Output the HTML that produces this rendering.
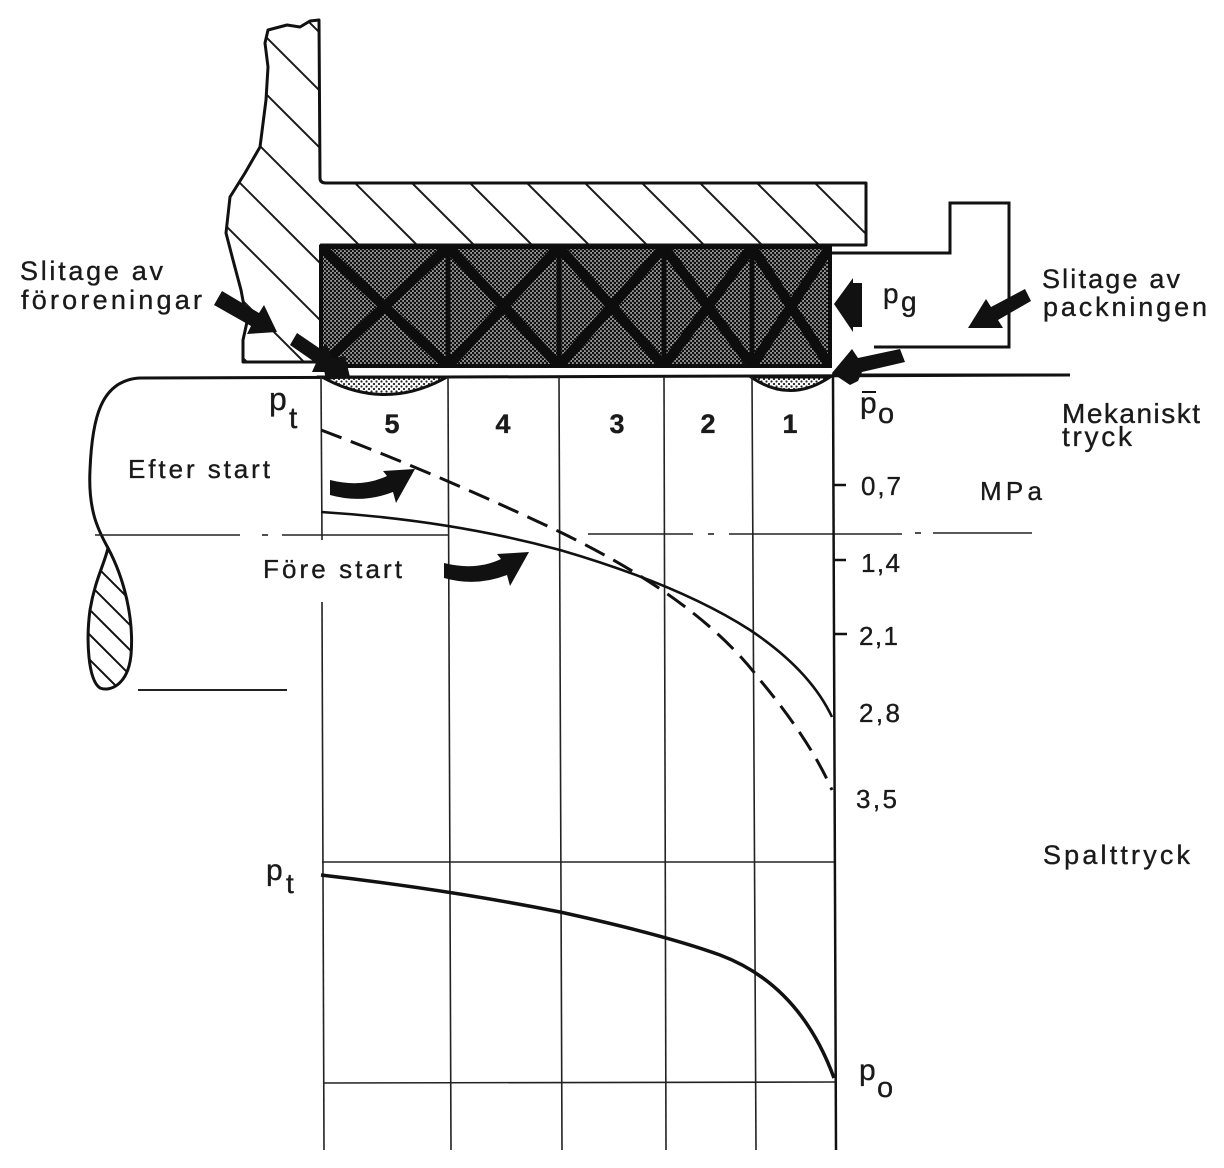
<!DOCTYPE html>
<html><head><meta charset="utf-8"><style>
html,body{margin:0;padding:0;background:#fff;}
svg{display:block;}
text{font-family:"Liberation Sans",Arial,sans-serif;fill:#1a1a1a;stroke:#1a1a1a;stroke-width:0.35;}
</style></head><body>
<svg width="1224" height="1168" viewBox="0 0 1224 1168" xmlns="http://www.w3.org/2000/svg">
<defs>
<pattern id="stip" width="4" height="4" patternUnits="userSpaceOnUse">
<rect width="4" height="4" fill="#9a9a9a"/><circle cx="1" cy="1" r="1.3" fill="#111"/><circle cx="3" cy="3" r="1.3" fill="#111"/>
</pattern>
<pattern id="lstip" width="5" height="5" patternUnits="userSpaceOnUse">
<rect width="5" height="5" fill="#fff"/><circle cx="1.5" cy="1.5" r="1.1" fill="#222"/><circle cx="4" cy="4" r="1.1" fill="#222"/>
</pattern>
<clipPath id="hclip"><path d="M319,20 L320,178 Q320,183 326,183 L866,183 L866,245 L321,245 L321,362 L243,362 L243,340 L247,322 L241,290 L233,260 L226,233 L230,197 L245,173 L260,147 L266,100 L268,67 L265,43 L268,30 L287,25 L300,27 L310,21 Z"/></clipPath>
<clipPath id="tclip"><path d="M108,548 C125,580 134,620 131,655 C128,685 110,692 100,688 C88,680 86,640 90,610 C95,580 104,565 108,548 Z"/></clipPath>
<clipPath id="pclip"><rect x="321" y="247" width="509" height="119"/></clipPath>
</defs>
<rect width="1224" height="1168" fill="#fff"/>

<!-- housing hatch -->
<g clip-path="url(#hclip)" stroke="#1a1a1a" stroke-width="2">
<line x1="-402" y1="0" x2="-22" y2="380"/>
<line x1="-345" y1="0" x2="35" y2="380"/>
<line x1="-287" y1="0" x2="93" y2="380"/>
<line x1="-230" y1="0" x2="150" y2="380"/>
<line x1="-172" y1="0" x2="208" y2="380"/>
<line x1="-115" y1="0" x2="265" y2="380"/>
<line x1="-58" y1="0" x2="322" y2="380"/>
<line x1="0" y1="0" x2="380" y2="380"/>
<line x1="57" y1="0" x2="437" y2="380"/>
<line x1="114" y1="0" x2="494" y2="380"/>
<line x1="172" y1="0" x2="552" y2="380"/>
<line x1="229" y1="0" x2="609" y2="380"/>
<line x1="287" y1="0" x2="667" y2="380"/>
<line x1="344" y1="0" x2="724" y2="380"/>
<line x1="402" y1="0" x2="782" y2="380"/>
<line x1="459" y1="0" x2="839" y2="380"/>
<line x1="517" y1="0" x2="897" y2="380"/>
<line x1="574" y1="0" x2="954" y2="380"/>
<line x1="632" y1="0" x2="1012" y2="380"/>
<line x1="689" y1="0" x2="1069" y2="380"/>
</g>
<path d="M319,20 L320,178 Q320,183 326,183 L866,183 L866,245 L321,245 L321,362 L243,362 L243,340 L247,322 L241,290 L233,260 L226,233 L230,197 L245,173 L260,147 L266,100 L268,67 L265,43 L268,30 L287,25 L300,27 L310,21 Z" fill="none" stroke="#111" stroke-width="3" stroke-linejoin="round"/>

<!-- gland -->
<polyline points="830,253 950,253 950,203 1009,203 1009,347 874,347" fill="none" stroke="#111" stroke-width="3"/>

<!-- packing -->
<rect x="321" y="247" width="509" height="119" fill="url(#stip)"/>
<g clip-path="url(#pclip)" stroke="#0d0d0d" stroke-width="10" stroke-linecap="butt">
<line x1="321" y1="247" x2="448" y2="366"/><line x1="448" y1="247" x2="321" y2="366"/>
<line x1="448" y1="247" x2="559" y2="366"/><line x1="559" y1="247" x2="448" y2="366"/>
<line x1="559" y1="247" x2="664" y2="366"/><line x1="664" y1="247" x2="559" y2="366"/>
<line x1="664" y1="247" x2="752" y2="366"/><line x1="752" y1="247" x2="664" y2="366"/>
<line x1="752" y1="247" x2="830" y2="366"/><line x1="830" y1="247" x2="752" y2="366"/>
</g>
<g stroke="#0d0d0d" stroke-width="5">
<line x1="448" y1="247" x2="448" y2="366"/><line x1="559" y1="247" x2="559" y2="366"/>
<line x1="664" y1="247" x2="664" y2="366"/><line x1="752" y1="247" x2="752" y2="366"/>
</g>
<rect x="321" y="247" width="509" height="119" fill="none" stroke="#0d0d0d" stroke-width="4"/>

<!-- sealing blobs -->
<path d="M322,377 Q385,412 447,377 Z" fill="url(#lstip)" stroke="#111" stroke-width="3"/>
<path d="M751,377 Q790,404 830,377 Z" fill="url(#lstip)" stroke="#111" stroke-width="3"/>

<!-- shaft outline -->
<path d="M1070,375 L140,378 C100,380 92,420 90,470 C88,510 98,530 108,548 C125,580 134,620 131,655 C128,685 110,692 100,688 C88,680 86,640 90,610 C95,580 104,565 108,548" fill="none" stroke="#111" stroke-width="3"/>
<g clip-path="url(#tclip)" stroke="#111" stroke-width="2">
<line x1="-60" y1="520" x2="230" y2="810" transform="translate(-90,0)"/>
<line x1="-60" y1="520" x2="230" y2="810" transform="translate(-65,0)"/>
<line x1="-60" y1="520" x2="230" y2="810" transform="translate(-40,0)"/>
<line x1="-60" y1="520" x2="230" y2="810" transform="translate(-15,0)"/>
<line x1="-60" y1="520" x2="230" y2="810" transform="translate(10,0)"/>
<line x1="-60" y1="520" x2="230" y2="810" transform="translate(35,0)"/>
<line x1="-60" y1="520" x2="230" y2="810" transform="translate(60,0)"/>
<line x1="-60" y1="520" x2="230" y2="810" transform="translate(85,0)"/>
<line x1="-60" y1="520" x2="230" y2="810" transform="translate(110,0)"/>
</g>
<line x1="138" y1="690" x2="287" y2="690" stroke="#222" stroke-width="2"/>

<!-- grid -->
<g stroke="#222" stroke-width="1.6">
<line x1="321" y1="377" x2="322" y2="540"/><line x1="322" y1="602" x2="324" y2="1150"/>
<line x1="448" y1="377" x2="451" y2="1150"/>
<line x1="559" y1="377" x2="562" y2="1150"/>
<line x1="664" y1="377" x2="666" y2="1150"/>
<line x1="752" y1="377" x2="756" y2="1150"/>
<line x1="322" y1="862" x2="834" y2="862"/>
<line x1="323" y1="1083" x2="835" y2="1082"/>
<line x1="95" y1="535" x2="240" y2="535"/>
<line x1="262" y1="535" x2="268" y2="535"/>
<line x1="282" y1="535" x2="448" y2="535"/>
<line x1="588" y1="534" x2="693" y2="534"/>
<line x1="708" y1="534" x2="714" y2="534"/>
<line x1="729" y1="534" x2="902" y2="534"/>
<line x1="915" y1="533" x2="921" y2="533"/>
<line x1="933" y1="533" x2="1032" y2="533"/>
</g>
<line x1="833" y1="377" x2="836" y2="1150" stroke="#111" stroke-width="2.5"/>
<g stroke="#111" stroke-width="2.5">
<line x1="833" y1="485" x2="846" y2="485"/>
<line x1="833" y1="560" x2="846" y2="560"/>
<line x1="834" y1="634" x2="847" y2="634"/>
</g>

<!-- curves -->
<path d="M321,430 Q440,475 560,532 Q700,600 760,680 Q810,740 832,790" fill="none" stroke="#111" stroke-width="3" stroke-dasharray="22,10"/>
<path d="M321,512 Q450,520 560,550 Q680,585 750,630 Q810,670 832,717" fill="none" stroke="#111" stroke-width="2.6"/>
<path d="M321,875 Q450,890 560,912 Q665,935 720,955 Q800,985 834,1078" fill="none" stroke="#111" stroke-width="3.5"/>

<!-- curved arrows -->
<path d="M330,480 Q362,488 387,476 L383,471 L415,469 L396,503 L393,492 Q362,504 330,495 Z" fill="#111"/>
<path d="M330,480 Q362,488 387,476 L383,471 L415,469 L396,503 L393,492 Q362,504 330,495 Z" fill="#111" transform="translate(114,83)"/>

<!-- straight arrows -->
<polygon points="214,305 222,291 259,313 264,305 277,332 247,334 251,326" fill="#111"/>
<polygon points="290,345 297,333 322,350 326,343 338,372 312,372 316,363" fill="#111"/>
<polygon points="322,360 345,356 350,377 326,380" fill="#111"/>
<polygon points="834,304 853,278 853,283 862,283 862,327 853,327 853,332" fill="#111"/>
<polygon points="1031,301 1025,289 991,307 986,299 968,328 1003,328 998,320" fill="#111"/>
<polygon points="832,373 852,349 858,358 900,349 905,362 862,372 858,381 850,385" fill="#111"/>
<line x1="832" y1="375" x2="1070" y2="375" stroke="#111" stroke-width="3"/>

<!-- labels -->
<text x="20" y="280" font-size="27" textLength="143" lengthAdjust="spacing">Slitage av</text>
<text x="21" y="309" font-size="27" textLength="181" lengthAdjust="spacing">föroreningar</text>
<text x="1042" y="288" font-size="27" textLength="138" lengthAdjust="spacing">Slitage av</text>
<text x="1043" y="316" font-size="27" textLength="164" lengthAdjust="spacing">packningen</text>
<text x="1062" y="423" font-size="28" textLength="138" lengthAdjust="spacing">Mekaniskt</text>
<text x="1062" y="446" font-size="28" textLength="70" lengthAdjust="spacing">tryck</text>
<text x="980" y="500" font-size="26" textLength="62" lengthAdjust="spacing">MPa</text>
<text x="1043" y="864" font-size="27" textLength="147" lengthAdjust="spacing">Spalttryck</text>
<text x="128" y="478" font-size="26" textLength="142" lengthAdjust="spacing">Efter start</text>
<text x="263" y="578" font-size="26" textLength="139" lengthAdjust="spacing">Före start</text>

<text x="861" y="495" font-size="26" textLength="40" lengthAdjust="spacing">0,7</text>
<text x="861" y="572" font-size="26" textLength="39" lengthAdjust="spacing">1,4</text>
<text x="859" y="645" font-size="26" textLength="39" lengthAdjust="spacing">2,1</text>
<text x="859" y="722" font-size="26" textLength="41" lengthAdjust="spacing">2,8</text>
<text x="856" y="808" font-size="26" textLength="41" lengthAdjust="spacing">3,5</text>

<g font-size="27" font-weight="bold" text-anchor="middle">
<text x="392" y="433">5</text><text x="503" y="433">4</text><text x="617" y="433">3</text><text x="708" y="433">2</text><text x="790" y="433">1</text>
</g>

<text x="269" y="410" font-size="32">p</text><text x="289" y="428" font-size="30">t</text>
<text x="266" y="880" font-size="30">p</text><text x="286" y="893" font-size="28">t</text>
<line x1="862" y1="392" x2="876" y2="392" stroke="#111" stroke-width="2"/>
<text x="860" y="413" font-size="30">p</text><text x="878" y="423" font-size="29">o</text>
<text x="883" y="303" font-size="28">p</text><text x="901" y="311" font-size="28">g</text>
<text x="859" y="1080" font-size="30">p</text><text x="877" y="1097" font-size="29">o</text>
</svg>
</body></html>
